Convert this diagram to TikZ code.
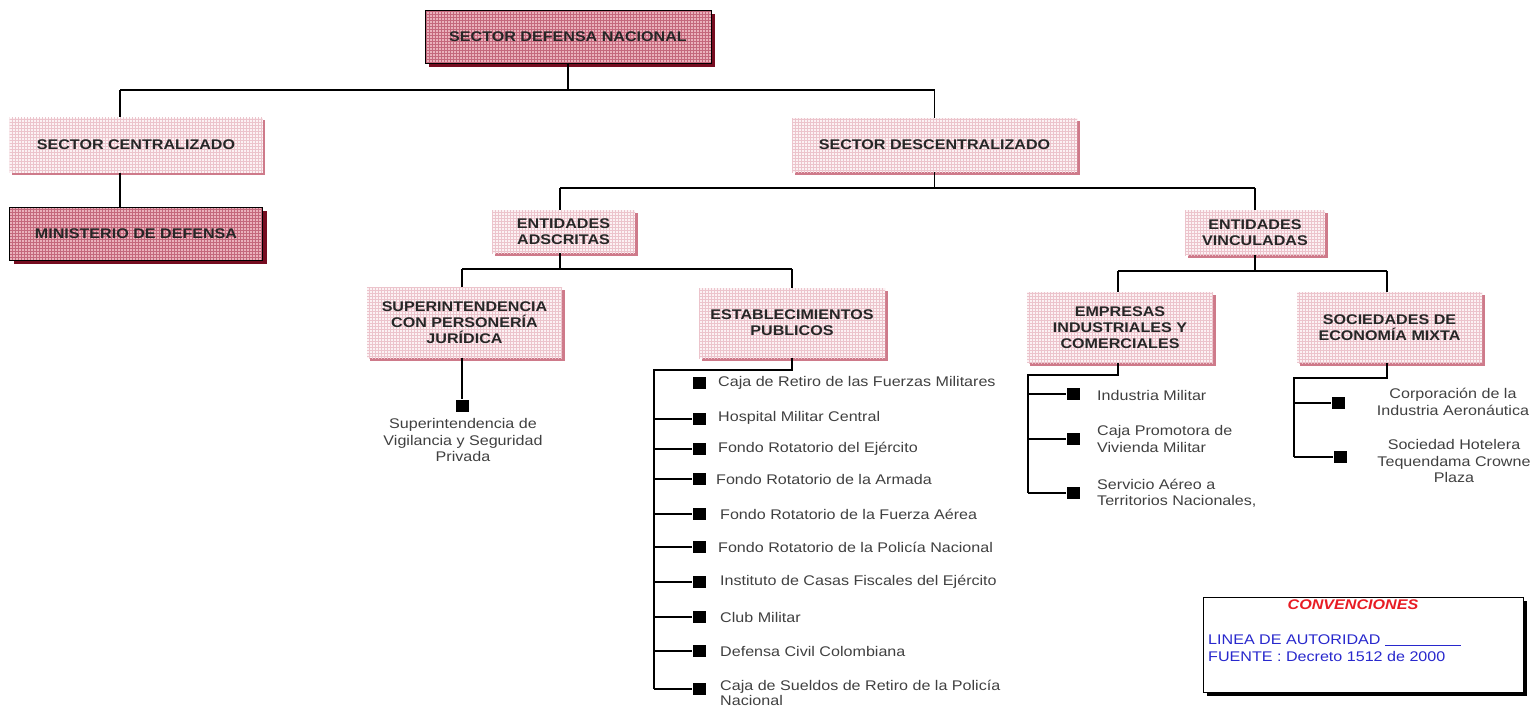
\documentclass[tikz,border=0pt]{standalone}
\usepackage{fontspec}
\setmainfont{Liberation Sans}[FakeStretch=1.15]
\usetikzlibrary{patterns,shadows}
\definecolor{rosaosc}{RGB}{234,178,188}
\definecolor{rejaosc}{RGB}{196,104,124}
\definecolor{sombraosc}{RGB}{118,12,32}
\definecolor{rosacla}{RGB}{252,242,244}
\definecolor{rejacla}{RGB}{236,196,204}
\definecolor{sombracla}{RGB}{206,122,138}
\definecolor{azulconv}{RGB}{40,40,205}
\definecolor{rojoconv}{RGB}{232,28,36}
\tikzset{
  cajaosc/.style = {draw = black, line width = 1pt,
    drop shadow = {shadow xshift = 4pt, shadow yshift = -4pt, fill = sombraosc, opacity = 1},
    preaction = {fill = rosaosc}, pattern = grid, pattern color = rejaosc,
    align = center, text = black!85, font = \bfseries\fontsize{14}{16}\selectfont},
  cajacla/.style = {
    drop shadow = {shadow xshift = 2.5pt, shadow yshift = -2.5pt, fill = sombracla, opacity = 1},
    preaction = {fill = rosacla}, pattern = grid, pattern color = rejacla,
    align = center, text = black!85, font = \bfseries\fontsize{14}{16}\selectfont},
  cuadro/.style = {fill = black, minimum width = 13pt, minimum height = 12pt, inner sep = 0pt},
  item/.style = {inner sep = 0pt, text = black!75, font = \fontsize{14}{16.5}\selectfont},
  linea/.style = {line width = 1.1pt}
}
\begin{document}
\begin{tikzpicture}[x = 1pt, y = -1pt]
	\useasboundingbox (0,0) rectangle (1540,707);
	% cajas
	\node[cajaosc, minimum width = 286pt, minimum height = 53pt] (nacional) at (568,36.5) {SECTOR DEFENSA NACIONAL};
	\node[cajacla, minimum width = 253pt, minimum height = 55pt] (central) at (136,145) {SECTOR CENTRALIZADO};
	\node[cajaosc, minimum width = 253pt, minimum height = 53pt] (ministerio) at (136,233.5) {MINISTERIO DE DEFENSA};
	\node[cajacla, minimum width = 285pt, minimum height = 54pt] (descentral) at (934.5,145) {SECTOR DESCENTRALIZADO};
	\node[cajacla, minimum width = 143pt, minimum height = 43pt] (adscritas) at (563.5,231.5) {ENTIDADES\\ADSCRITAS};
	\node[cajacla, minimum width = 140pt, minimum height = 45pt] (vinculadas) at (1255,232.5) {ENTIDADES\\VINCULADAS};
	\node[cajacla, minimum width = 195pt, minimum height = 71pt] (superint) at (464.5,322.5) {SUPERINTENDENCIA\\CON PERSONERÍA\\JURÍDICA};
	\node[cajacla, minimum width = 186pt, minimum height = 70pt] (establec) at (792,323) {ESTABLECIMIENTOS\\PUBLICOS};
	\node[cajacla, minimum width = 186pt, minimum height = 71pt] (empresas) at (1120,327.5) {EMPRESAS\\INDUSTRIALES Y\\COMERCIALES};
	\node[cajacla, minimum width = 185pt, minimum height = 71pt] (sociedades) at (1389.5,327.5) {SOCIEDADES DE\\ECONOMÍA MIXTA};
	% lineas de autoridad
	\coordinate (barraA1) at (120,90);
	\coordinate (barraA2) at (934.5,90);
	\draw[linea] (nacional.south) -- (nacional.south |- barraA1);
	\draw[linea] (barraA1) -- (barraA2);
	\draw[linea] (barraA1) -- (barraA1 |- central.north);
	\draw[linea] (barraA2) -- (descentral.north);
	\draw[linea] (barraA1 |- central.south) -- (barraA1 |- ministerio.north);
	\coordinate (barraB1) at (560,188);
	\coordinate (barraB2) at (1255,188);
	\draw[linea] (descentral.south) -- (descentral.south |- barraB1);
	\draw[linea] (barraB1) -- (barraB2);
	\draw[linea] (barraB1) -- (barraB1 |- adscritas.north);
	\draw[linea] (barraB2) -- (vinculadas.north);
	\coordinate (barraC1) at (462,269);
	\coordinate (barraC2) at (792,269);
	\draw[linea] (barraB1 |- adscritas.south) -- (barraB1 |- barraC1);
	\draw[linea] (barraC1) -- (barraC2);
	\draw[linea] (barraC1) -- (barraC1 |- superint.north);
	\draw[linea] (barraC2) -- (establec.north);
	\coordinate (barraD1) at (1118,271);
	\coordinate (barraD2) at (1387,271);
	\draw[linea] (vinculadas.south) -- (vinculadas.south |- barraD1);
	\draw[linea] (barraD1) -- (barraD2);
	\draw[linea] (barraD1) -- (barraD1 |- empresas.north);
	\draw[linea] (barraD2) -- (barraD2 |- sociedades.north);
	% superintendencia
	\node[cuadro] (sv) at (462,405.5) {};
	\draw[linea] (barraC1 |- superint.south) -- (sv.north);
	\node[item, align = center] (tsv) at (463,440) {Superintendencia de\\Vigilancia y Seguridad\\Privada};
	% establecimientos publicos
	\coordinate (ejeE) at (654,370);
	\coordinate (finE) at (654,689);
	\draw[linea] (establec.south) -- (establec.south |- ejeE) -- (ejeE) -- (finE);
	\node[cuadro] (e1) at (699,383) {};
	\node[cuadro] (e2) at (699,419) {};
	\node[cuadro] (e3) at (699,449) {};
	\node[cuadro] (e4) at (699,479) {};
	\node[cuadro] (e5) at (699,514) {};
	\node[cuadro] (e6) at (699,547) {};
	\node[cuadro] (e7) at (699,582) {};
	\node[cuadro] (e8) at (699,617) {};
	\node[cuadro] (e9) at (699,651) {};
	\node[cuadro] (e10) at (699,689) {};
	\draw[linea] (ejeE |- e2) -- (e2.west);
	\draw[linea] (ejeE |- e3) -- (e3.west);
	\draw[linea] (ejeE |- e4) -- (e4.west);
	\draw[linea] (ejeE |- e5) -- (e5.west);
	\draw[linea] (ejeE |- e6) -- (e6.west);
	\draw[linea] (ejeE |- e7) -- (e7.west);
	\draw[linea] (ejeE |- e8) -- (e8.west);
	\draw[linea] (ejeE |- e9) -- (e9.west);
	\draw[linea] (finE) -- (e10.west);
	\node[item, anchor = west] (te1) at (718,383) {Caja de Retiro de las Fuerzas Militares};
	\node[item, anchor = west] (te2) at (718,418) {Hospital Militar Central};
	\node[item, anchor = west] (te3) at (718,449) {Fondo Rotatorio del Ejército};
	\node[item, anchor = west] (te4) at (716,479) {Fondo Rotatorio de la Armada};
	\node[item, anchor = west] (te5) at (720,514) {Fondo Rotatorio de la Fuerza Aérea};
	\node[item, anchor = west] (te6) at (718,547) {Fondo Rotatorio de la Policía Nacional};
	\node[item, anchor = west] (te7) at (720,582) {Instituto de Casas Fiscales del Ejército};
	\node[item, anchor = west] (te8) at (720,617) {Club Militar};
	\node[item, anchor = west] (te9) at (720,651) {Defensa Civil Colombiana};
	\node[item, anchor = west, align = left, font = \fontsize{14}{15}\selectfont] (te10) at (720,693) {Caja de Sueldos de Retiro de la Policía\\Nacional};
	% empresas industriales y comerciales
	\coordinate (ejeI) at (1028,375);
	\coordinate (finI) at (1028,493);
	\draw[linea] (empresas.south -| barraD1) -- (barraD1 |- ejeI) -- (ejeI) -- (finI);
	\node[cuadro] (i1) at (1073,394) {};
	\node[cuadro] (i2) at (1073,439) {};
	\node[cuadro] (i3) at (1073,493) {};
	\draw[linea] (ejeI |- i1) -- (i1.west);
	\draw[linea] (ejeI |- i2) -- (i2.west);
	\draw[linea] (finI) -- (i3.west);
	\node[item, anchor = west] (ti1) at (1097,395) {Industria Militar};
	\node[item, anchor = west, align = left] (ti2) at (1097,439) {Caja Promotora de\\Vivienda Militar};
	\node[item, anchor = west, align = left] (ti3) at (1097,493) {Servicio Aéreo a\\Territorios Nacionales,};
	% sociedades de economia mixta
	\coordinate (ejeS) at (1294,378);
	\coordinate (finS) at (1294,457);
	\draw[linea] (sociedades.south -| barraD2) -- (barraD2 |- ejeS) -- (ejeS) -- (finS);
	\node[cuadro] (s1) at (1338,403) {};
	\node[cuadro] (s2) at (1340,457) {};
	\draw[linea] (ejeS |- s1) -- (s1.west);
	\draw[linea] (finS) -- (s2.west);
	\node[item, align = center] (ts1) at (1453,402) {Corporación de la\\Industria Aeronáutica};
	\node[item, align = center] (ts2) at (1454,461) {Sociedad Hotelera\\Tequendama Crowne\\Plaza};
	% convenciones
	\node[draw = black, line width = 1pt, fill = white, minimum width = 320pt, minimum height = 95pt,
		drop shadow = {shadow xshift = 4pt, shadow yshift = -4pt, fill = black, opacity = 1}] (conv) at (1363,644.5) {};
	\node[text = rojoconv, font = \bfseries\itshape\fontsize{14}{16}\selectfont] (tconv) at (1353,605) {CONVENCIONES};
	\node[item, text = azulconv, anchor = west] (autoridad) at (1208,640) {LINEA DE AUTORIDAD \rule[-1pt]{76pt}{0.7pt}};
	\node[item, text = azulconv, anchor = west] (fuente) at (1208,656) {FUENTE : Decreto 1512 de 2000};
\end{tikzpicture}
\end{document}
